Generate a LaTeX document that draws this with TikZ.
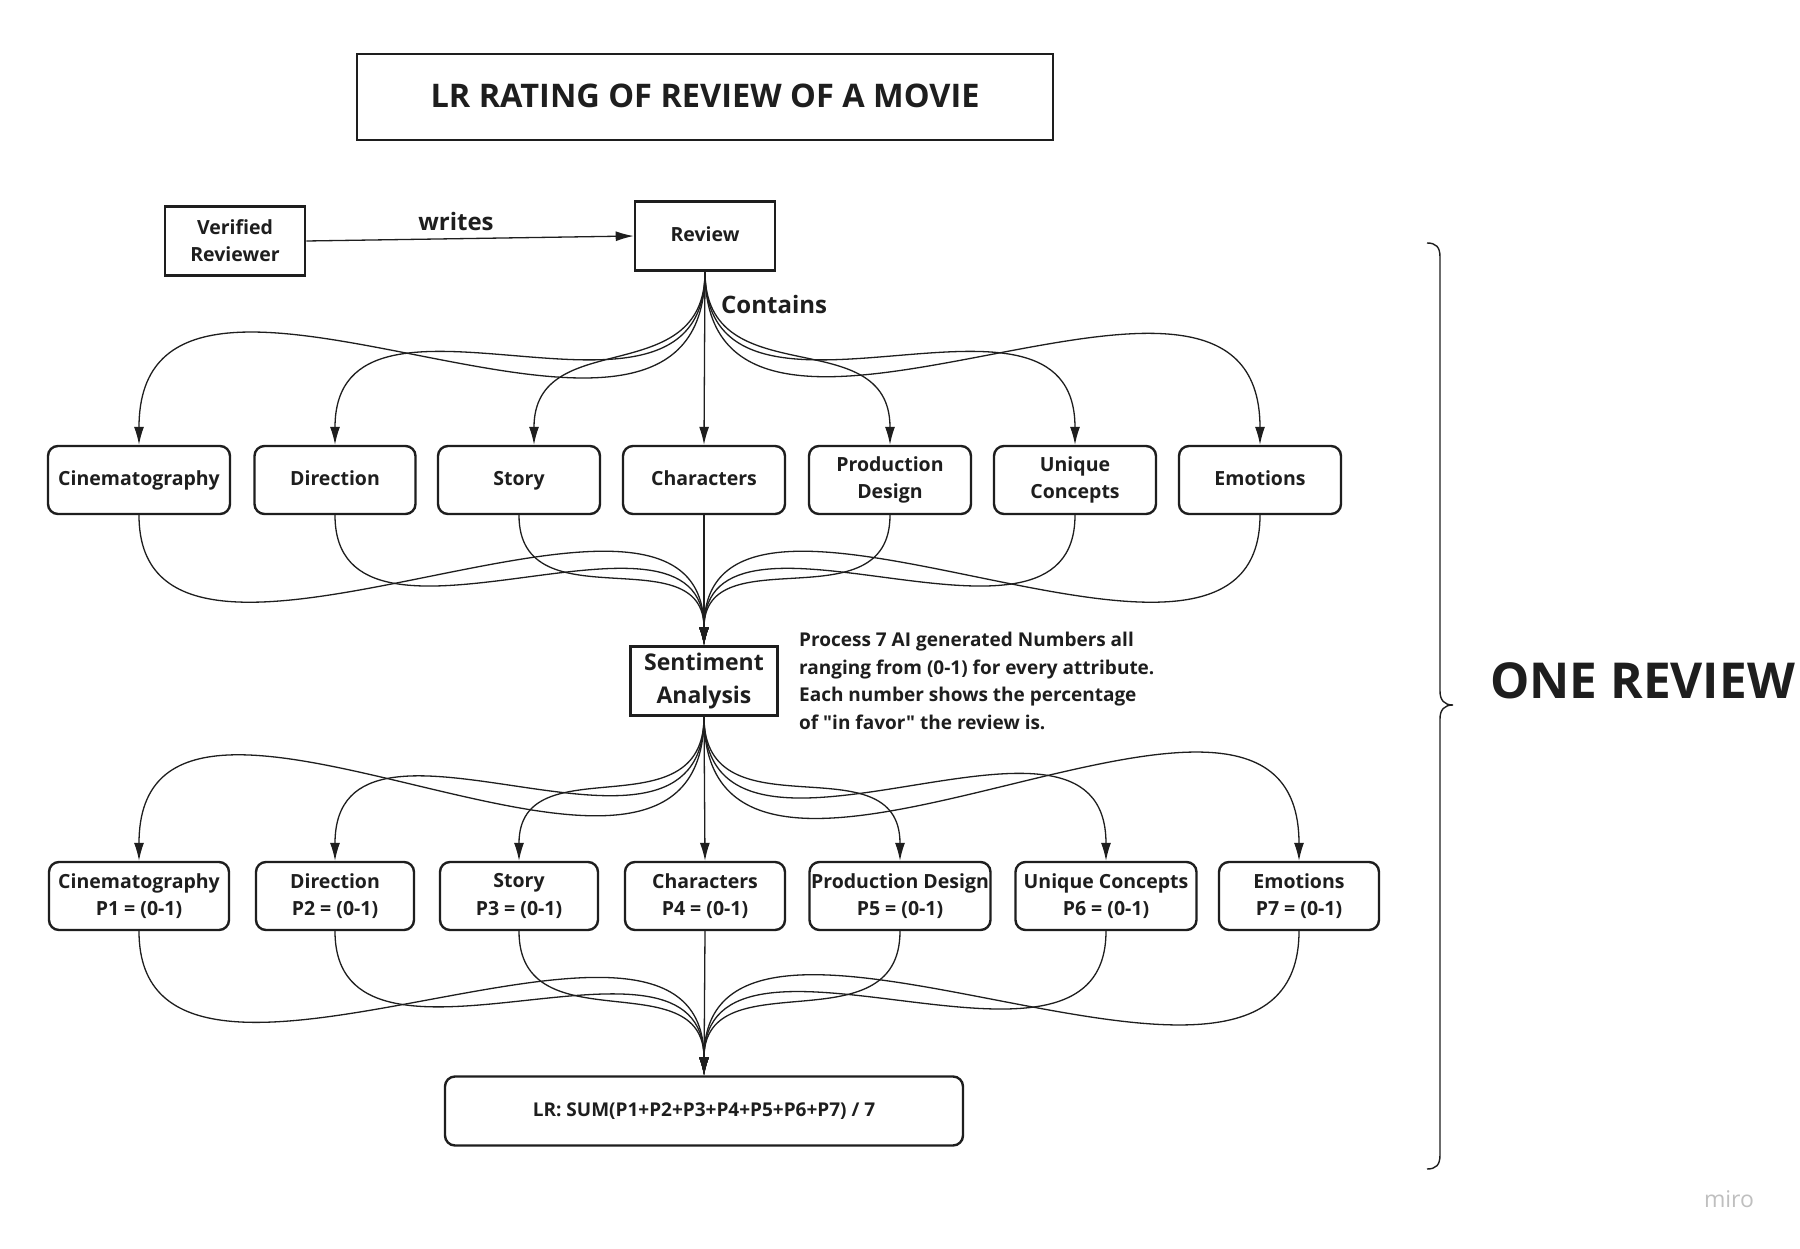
\documentclass[tikz,border=0pt]{standalone}
\usepackage{fontspec}
\setmainfont{Open Sans}[Ligatures=TeXOff]
\usetikzlibrary{arrows.meta}
\definecolor{ink}{HTML}{1E1E1E}
\newcommand\myfs[2]{\fontsize{#1}{#2}\selectfont}
\begin{document}
\begin{tikzpicture}[x=1pt,y=-1pt,
  sqbox/.style={draw=ink, line width=2.6pt, inner sep=0pt, align=center, text=ink, font=\bfseries\myfs{19.5}{27}},
  rbox/.style={draw=ink, line width=2.4pt, rounded corners=10pt, inner sep=0pt, minimum height=68pt, align=center, text=ink, font=\bfseries\myfs{19.5}{27.5}},
  conn/.style={draw=ink, line width=1.3pt, -{Latex[length=18pt,width=10pt]}},
  lbl/.style={text=ink, inner sep=0pt, font=\bfseries\myfs{24}{27}}
]
\useasboundingbox[fill=white] (0,0) rectangle (1800,1249);

% title and top
\node[sqbox, minimum width=696pt, minimum height=86pt, font=\bfseries\myfs{32.5}{34}] (title) at (705,97) {\raisebox{3pt}{LR RATING OF REVIEW OF A MOVIE}};
\node[sqbox, minimum width=140pt, minimum height=69pt] (ver) at (235,241) {Verified\\Reviewer};
\node[sqbox, minimum width=140pt, minimum height=69pt] (rev) at (705,236) {\strut Review};
\draw[conn] (ver.east) -- (rev.west);
\node[lbl] (writes) at (456,222) {writes};
\node[lbl, anchor=west] (contains) at (721,305) {Contains};

% row 1
\node[rbox, minimum width=182pt] (cin1) at (139,480) {\strut Cinematography};
\node[rbox, minimum width=161pt] (dir1) at (335,480) {\strut Direction};
\node[rbox, minimum width=162pt] (sto1) at (519,480) {\strut Story};
\node[rbox, minimum width=162pt] (cha1) at (704,480) {\strut Characters};
\node[rbox, minimum width=162pt] (pro1) at (890,480) {Production\\Design};
\node[rbox, minimum width=162pt] (uni1) at (1075,480) {Unique\\Concepts};
\node[rbox, minimum width=162pt] (emo1) at (1260,480) {\strut Emotions};

% sentiment
\node[sqbox, minimum width=147pt, minimum height=69pt, font=\bfseries\myfs{23}{33}] (sen) at (704,681) {Sentiment\\Analysis};
\node[text=ink, anchor=north west, align=left, inner sep=0pt, font=\bfseries\myfs{19}{27.5}] (note) at (799,632)
 {Process 7 AI generated Numbers all\\ranging from (0-1) for every attribute.\\Each number shows the percentage\\of "in favor" the review is.};

% row 2
\node[rbox, minimum width=180pt] (cin2) at (139,896) {Cinematography\\P1 = (0-1)};
\node[rbox, minimum width=158pt] (dir2) at (335,896) {Direction\\P2 = (0-1)};
\node[rbox, minimum width=158pt] (sto2) at (519,896) {Story\\P3 = (0-1)};
\node[rbox, minimum width=160pt] (cha2) at (705,896) {Characters\\P4 = (0-1)};
\node[rbox, minimum width=181pt] (pro2) at (900,896) {Production Design\\P5 = (0-1)};
\node[rbox, minimum width=181pt] (uni2) at (1106,896) {Unique Concepts\\P6 = (0-1)};
\node[rbox, minimum width=160pt] (emo2) at (1299,896) {Emotions\\P7 = (0-1)};

% LR
\node[rbox, minimum width=518pt, minimum height=69pt, font=\bfseries\myfs{19}{22}] (lr) at (704,1111) {LR: SUM(P1+P2+P3+P4+P5+P6+P7) / 7};

% fan: review -> row 1
\draw[conn] (rev.south) .. controls +(0,275) and +(0,-275) .. (cin1.north);
\draw[conn] (rev.south) .. controls +(0,195) and +(0,-195) .. (dir1.north);
\draw[conn] (rev.south) .. controls +(0,120) and +(0,-120) .. ([xshift=15pt]sto1.north);
\draw[conn] (rev.south) -- (cha1.north);
\draw[conn] (rev.south) .. controls +(0,125) and +(0,-125) .. (pro1.north);
\draw[conn] (rev.south) .. controls +(0,195) and +(0,-195) .. (uni1.north);
\draw[conn] (rev.south) .. controls +(0,270) and +(0,-270) .. (emo1.north);

% fan: row 1 -> sentiment
\draw[conn] (cin1.south) .. controls +(0,235) and +(0,-235) .. (sen.north);
\draw[conn] (dir1.south) .. controls +(0,170) and +(0,-170) .. (sen.north);
\draw[conn] (sto1.south) .. controls +(0,110) and +(0,-110) .. (sen.north);
\draw[conn] (cha1.south) -- (sen.north);
\draw[conn] (pro1.south) .. controls +(0,110) and +(0,-110) .. (sen.north);
\draw[conn] (uni1.south) .. controls +(0,170) and +(0,-170) .. (sen.north);
\draw[conn] (emo1.south) .. controls +(0,235) and +(0,-235) .. (sen.north);

% fan: sentiment -> row 2
\draw[conn] (sen.south) .. controls +(0,270) and +(0,-270) .. (cin2.north);
\draw[conn] (sen.south) .. controls +(0,190) and +(0,-190) .. (dir2.north);
\draw[conn] (sen.south) .. controls +(0,118) and +(0,-118) .. (sto2.north);
\draw[conn] (sen.south) -- (cha2.north);
\draw[conn] (sen.south) .. controls +(0,122) and +(0,-122) .. (pro2.north);
\draw[conn] (sen.south) .. controls +(0,200) and +(0,-200) .. (uni2.north);
\draw[conn] (sen.south) .. controls +(0,280) and +(0,-280) .. (emo2.north);

% fan: row 2 -> LR
\draw[conn] (cin2.south) .. controls +(0,240) and +(0,-240) .. (lr.north);
\draw[conn] (dir2.south) .. controls +(0,175) and +(0,-175) .. (lr.north);
\draw[conn] (sto2.south) .. controls +(0,115) and +(0,-115) .. (lr.north);
\draw[conn] (cha2.south) -- (lr.north);
\draw[conn] (pro2.south) .. controls +(0,118) and +(0,-118) .. (lr.north);
\draw[conn] (uni2.south) .. controls +(0,185) and +(0,-185) .. (lr.north);
\draw[conn] (emo2.south) .. controls +(0,250) and +(0,-250) .. (lr.north);

% brace
\draw[draw=ink, line width=1.4pt] (1427,243) .. controls (1436,243) and (1440,247) .. (1440,257) -- (1440,691)
  .. controls (1440,700) and (1444,705) .. (1453,705)
  .. controls (1444,705) and (1440,710) .. (1440,719) -- (1440,1155)
  .. controls (1440,1165) and (1436,1169) .. (1427,1169);
\node[text=ink, anchor=west, inner sep=0pt, font=\bfseries\myfs{49.5}{50}] (one) at (1490,681) {ONE REVIEW};
\node[text=black!25, inner sep=0pt, font=\myfs{23}{23}] (miro) at (1729,1199) {miro};
\end{tikzpicture}
\end{document}
